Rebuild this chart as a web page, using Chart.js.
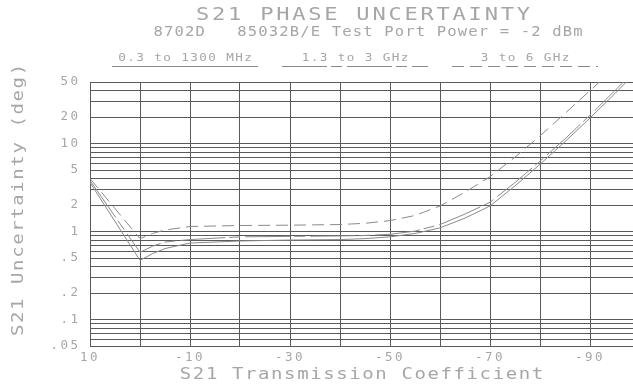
<!DOCTYPE html>
<html>
<head>
<meta charset="utf-8">
<script src="https://cdn.jsdelivr.net/npm/chart.js@4.4.1/dist/chart.umd.min.js"></script>
<style>
  html, body { margin: 0; padding: 0; background: #ffffff; }
  #c { display: block; }
</style>
</head>
<body>
<canvas id="c" width="633" height="389"></canvas>
<script>
// S21 transmission coefficient (dB) at which each uncertainty value is given
const transmission = [10, 0, -2.5, -5, -10, -20, -30, -40, -45, -50, -55, -60, -65, -70, -75, -80, -85, -90, -95, -100];

// Phase uncertainty (degrees) per frequency band
const band1Values = [3.6, 0.47, 0.56, 0.64, 0.74, 0.78, 0.80, 0.81, 0.83, 0.87, 0.95, 1.10, 1.42, 1.95, 3.3, 5.8, 10.5, 19.5, 37, 72];
const band2Values = [3.8, 0.58, 0.68, 0.76, 0.81, 0.87, 0.88, 0.89, 0.90, 0.93, 1.01, 1.20, 1.58, 2.15, 3.6, 6.3, 11.3, 21, 40, 78];
const band3Values = [4.0, 0.83, 0.95, 1.04, 1.14, 1.17, 1.18, 1.20, 1.24, 1.33, 1.52, 1.95, 2.8, 4.2, 7.0, 12.2, 22, 40, 72, 130];

const bandNames = ['0.3 to 1300 MHz', '1.3 to 3 GHz', '3 to 6 GHz'];

// Axis grid and tick labels
const xGridValues = [10, 0, -10, -20, -30, -40, -50, -60, -70, -80, -90];
const xTickValues = [10, -10, -30, -50, -70, -90];
const xTickLabels = ['10', '-10', '-30', '-50', '-70', '-90'];
const yGridValues = [0.05, 0.06, 0.07, 0.08, 0.09, 0.1, 0.2, 0.3, 0.4, 0.5, 0.6, 0.7, 0.8, 0.9,
                     1, 2, 3, 4, 5, 6, 7, 8, 9, 10, 20, 30, 40, 50];
const yTickValues = [50, 20, 10, 5, 2, 1, 0.5, 0.2, 0.1, 0.05];
const yTickLabels = ['50', '20', '10', '5', '2', '1', '.5', '.2', '.1', '.05'];

const chartTitle = 'S21 PHASE UNCERTAINTY';
const chartSubtitle = '8702D   85032B/E Test Port Power = -2 dBm';
const xAxisTitle = 'S21 Transmission Coefficient';
const yAxisTitle = 'S21 Uncertainty (deg)';

const FONT = '"DejaVu Sans Mono", "Liberation Mono", monospace';
const TEXT_COLOR = '#a6a6a6';
const GRID_COLOR = '#5a5a5a';
const LINE_COLOR = '#8a8a8a';

const toPoints = vals => transmission.map((x, i) => ({ x: x, y: vals[i] }));

const dashes = [[], [45, 4, 11, 5], [12, 6]];

// Draws wide, spaced plotter-style text centred on (cx, cy)
function spacedText(ctx, text, cx, cy, size, spacing, stretch, rotate) {
  ctx.save();
  ctx.font = size + 'px ' + FONT;
  ctx.letterSpacing = spacing + 'px';
  ctx.fillStyle = TEXT_COLOR;
  ctx.textAlign = 'left';
  ctx.textBaseline = 'middle';
  const w = ctx.measureText(text).width - spacing;
  ctx.translate(cx, cy);
  if (rotate) ctx.rotate(-Math.PI / 2);
  ctx.scale(stretch, 1);
  ctx.fillText(text, -w / 2, 0);
  ctx.restore();
}

const plotterText = {
  id: 'plotterText',
  beforeDraw(chart) {
    chart.ctx.letterSpacing = '2.5px';
  },
  afterDraw(chart) {
    const ctx = chart.ctx;
    const area = chart.chartArea;
    spacedText(ctx, chartTitle, 363, 15.5, 17, 2.1, 1.3);
    spacedText(ctx, chartSubtitle, 368, 32.5, 13.5, 1.0, 1.15);

    // band legend: label with the band's line style underneath
    const centers = [185, 355, 525];
    chart.data.datasets.forEach((ds, i) => {
      spacedText(ctx, ds.label, centers[i], 58, 11, 1.2, 1.15);
      ctx.save();
      ctx.strokeStyle = LINE_COLOR;
      ctx.lineWidth = 1;
      ctx.setLineDash(ds.borderDash || []);
      ctx.beginPath();
      ctx.moveTo(centers[i] - 73, 66.5);
      ctx.lineTo(centers[i] + 73, 66.5);
      ctx.stroke();
      ctx.restore();
    });

    spacedText(ctx, xAxisTitle, (area.left + area.right) / 2, 375, 16.5, 1.4, 1.15);
    spacedText(ctx, yAxisTitle, 19, 200, 16.5, 1.4, 1.15, true);
    ctx.letterSpacing = '0px';
  }
};

new Chart(document.getElementById('c'), {
  type: 'line',
  data: {
    datasets: [band1Values, band2Values, band3Values].map((vals, i) => ({
      label: bandNames[i],
      data: toPoints(vals),
      borderColor: LINE_COLOR,
      borderWidth: 1,
      borderDash: dashes[i],
      pointRadius: 0,
      tension: 0,
      fill: false
    }))
  },
  options: {
    responsive: false,
    animation: false,
    events: [],
    layout: { padding: { top: 82, left: 0, right: 0, bottom: 0 } },
    plugins: {
      legend: { display: false },
      title: { display: false },
      tooltip: { enabled: false }
    },
    scales: {
      x: {
        type: 'linear',
        reverse: true,
        min: -98.6,
        max: 10,
        afterBuildTicks: s => { s.ticks = xGridValues.map(v => ({ value: v })); },
        afterFit: s => { s.height = 43; },
        grid: { color: GRID_COLOR, lineWidth: 1, drawTicks: false },
        border: { color: GRID_COLOR, width: 1 },
        ticks: {
          autoSkip: false,
          maxRotation: 0,
          padding: 4,
          color: TEXT_COLOR,
          font: { family: FONT, size: 12.5 },
          callback: v => {
            const k = xTickValues.indexOf(v);
            return k >= 0 ? xTickLabels[k] : '';
          }
        }
      },
      y: {
        type: 'logarithmic',
        min: 0.05,
        max: 50,
        afterBuildTicks: s => { s.ticks = yGridValues.map(v => ({ value: v })); },
        afterFit: s => { s.width = 90; },
        grid: { color: GRID_COLOR, lineWidth: 1, drawTicks: false },
        border: { color: GRID_COLOR, width: 1 },
        ticks: {
          autoSkip: false,
          padding: 9.5,
          color: TEXT_COLOR,
          font: { family: FONT, size: 12.5 },
          callback: v => {
            const k = yTickValues.findIndex(t => Math.abs(t - v) < 1e-9);
            return k >= 0 ? yTickLabels[k] : '';
          }
        }
      }
    }
  },
  plugins: [plotterText]
});
</script>
</body>
</html>
